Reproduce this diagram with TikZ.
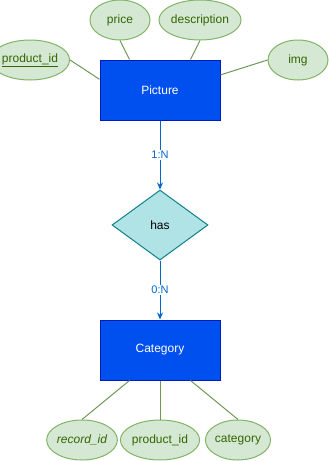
\documentclass[tikz,border=0pt]{standalone}
\usepackage{fontspec}
\setmainfont{Liberation Sans}
\usetikzlibrary{shapes.geometric,arrows.meta}
\definecolor{entfill}{HTML}{0050EF}
\definecolor{entdraw}{HTML}{001DBC}
\definecolor{attfill}{HTML}{D5E8D4}
\definecolor{attdraw}{HTML}{82B366}
\definecolor{atttext}{HTML}{336600}
\definecolor{relfill}{HTML}{B0E3E6}
\definecolor{reldraw}{HTML}{0E8088}
\definecolor{link}{HTML}{0066CC}

\begin{document}
\begin{tikzpicture}[
      x=1pt, y=-1pt,
      entity/.style={rectangle, draw=entdraw, fill=entfill, text=white,
                     minimum width=120pt, minimum height=60pt,
                     line width=1pt, font=\fontsize{12}{14}\selectfont},
      attr/.style={ellipse, draw=attdraw, fill=attfill, text=atttext,
                   minimum width=60pt, minimum height=40pt, inner sep=0pt,
                   line width=1pt, font=\fontsize{12}{14}\selectfont},
      rel/.style={diamond, draw=reldraw, fill=relfill, inner sep=0pt,
                  minimum width=96pt, minimum height=70pt,
                  line width=1pt, font=\fontsize{12}{14}\selectfont},
      attline/.style={draw=attdraw!85!black, line width=1pt},
      arr/.style={-{Stealth[length=7pt,width=6pt]}, draw=link, line width=1pt},
      card/.style={fill=white, text=link, inner sep=1pt,
                   font=\fontsize{11}{13}\selectfont}
    ]
      \useasboundingbox (0,0) rectangle (329,461);
      % entities and relationship
      \node[entity] (pic) at (160,90)  {Picture};
      \node[rel]    (has) at (160,225) {has};
      \node[entity] (cat) at (160,350) {Category};
      % attributes of Picture
      \node[attr] (pid)  at (30,60)  {\underline{product\_id}};
      \node[attr] (prc)  at (120,20) {price};
      \node[attr] (desc) at (200,20) {description};
      \node[attr] (img)  at (298,60) {img};
      % attributes of Category
      \node[attr] (rid)  at (82,440)  {\itshape record\_id};
      \node[attr] (cpid) at (160,440) {product\_id};
      \node[attr] (ctg)  at (238,440) {category};
      \draw[attline] (pid.east)   -- (pic.170);
      \draw[attline] (prc.south)  -- (pic.135);
      \draw[attline] (desc.south) -- (pic.45);
      \draw[attline] (img.west)   -- (pic.14);
      \draw[attline] (rid.north)  -- (cat.225);
      \draw[attline] (cpid.north) -- (cat.south);
      \draw[attline] (ctg.north)  -- (cat.315);
      % cardinalities
      \draw[arr] (pic.south) -- node[card] {1:N} (has.north);
      \draw[arr] (has.south) -- node[card] {0:N} (cat.north);
    \end{tikzpicture}
\end{document}
